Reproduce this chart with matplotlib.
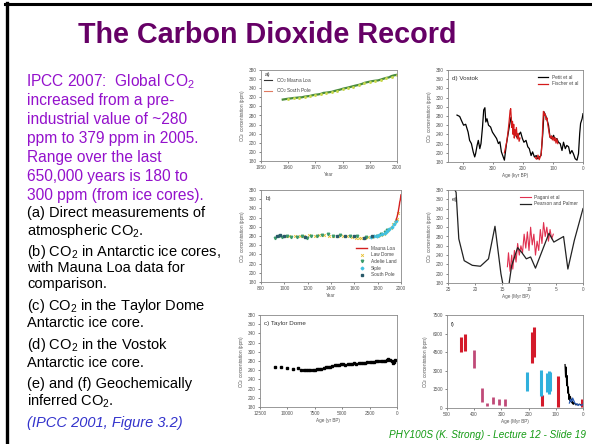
import matplotlib
matplotlib.use('Agg')
import matplotlib.pyplot as plt
from matplotlib.lines import Line2D

plt.rcParams['font.family'] = 'Liberation Sans'
plt.rcParams['mathtext.fontset'] = 'custom'
plt.rcParams['mathtext.rm'] = 'Liberation Sans'
plt.rcParams['mathtext.it'] = 'Liberation Sans:italic'
plt.rcParams['mathtext.bf'] = 'Liberation Sans:bold'

# ---------------- data ----------------
# (a) direct measurements
ml_years = list(range(1958, 2001))
ml_co2 = [315.0, 316.0, 316.9, 317.6, 318.5, 319.0, 319.6, 320.0, 321.4, 322.2, 323.0,
          324.6, 325.7, 326.3, 327.5, 329.7, 330.2, 331.1, 332.0, 333.8, 335.4, 336.8,
          338.7, 340.1, 341.4, 343.0, 344.6, 346.1, 347.4, 349.2, 351.6, 353.1, 354.4,
          355.6, 356.5, 357.1, 358.8, 360.8, 362.6, 363.7, 366.7, 368.4, 369.5]
sp_years = [1960, 1962, 1964, 1966, 1968, 1970, 1972, 1974, 1976, 1978, 1980, 1982, 1984,
            1986, 1988, 1990, 1992, 1994, 1996, 1998, 2000]
sp_co2 = [316.0, 317.7, 318.9, 320.3, 322.2, 324.6, 326.5, 329.2, 331.0, 334.4, 337.6,
          340.4, 343.5, 346.3, 350.4, 353.2, 355.4, 357.7, 361.5, 365.2, 368.2]

# (b) ice cores
law_years = [1005, 1040, 1090, 1130, 1170, 1210, 1260, 1300, 1340, 1380, 1420, 1460, 1500,
             1540, 1580, 1610, 1640, 1660, 1690, 1720, 1750, 1775, 1800, 1825, 1850, 1870,
             1890, 1910, 1930, 1950, 1965, 1975]
law_co2 = [279, 280, 279, 281, 280, 282, 281, 283, 282, 280, 281, 279, 280, 281, 277, 276,
           275, 276, 276, 277, 277, 279, 281, 283, 285, 288, 292, 298, 307, 311, 318, 329]
adelie_years = [920, 950, 980, 1020, 1060, 1110, 1150, 1190, 1230, 1280, 1320, 1370, 1420,
                1480, 1560, 1620, 1700, 1790, 1830, 1860, 1880]
adelie_co2 = [276, 281, 277, 279, 277, 278, 280, 276, 279, 281, 283, 284, 281, 282, 281,
              279, 278, 281, 284, 289, 292]
siple_years = [1745, 1770, 1790, 1810, 1835, 1860, 1880, 1900, 1920, 1940, 1953]
siple_co2 = [278, 281, 280, 282, 284, 287, 290, 295, 300, 307, 313]
spole_years = [940, 965, 1000, 1180, 1450, 1520, 1600, 1680, 1750]
spole_co2 = [279, 283, 281, 277, 281, 280, 279, 276, 279]

# (c) Taylor Dome
taylor_age = [11100, 10600, 10050, 9500, 9000, 8800, 8500, 8300, 8100, 7900, 7700, 7500,
              7300, 7100, 6900, 6700, 6500, 6300, 6100, 5900, 5700, 5500, 5300, 5100, 4900,
              4700, 4500, 4300, 4100, 3900, 3700, 3500, 3300, 3100, 2900, 2700, 2500, 2300,
              2100, 1900, 1700, 1500, 1300, 1100, 950, 800, 650, 500, 400, 300, 200]
taylor_co2 = [266, 266, 264, 262, 264, 261, 260, 261, 260, 260, 261, 261, 262, 262, 263,
              265, 266, 267, 268, 270, 271, 272, 272, 273, 273, 272, 273, 274, 274, 275,
              274, 275, 276, 275, 276, 277, 277, 278, 278, 279, 279, 280, 281, 281, 283,
              284, 283, 280, 276, 278, 282]

# (d) Vostok
petit_age = [420, 411, 405, 398, 391, 383, 378, 372, 366, 361, 358, 353, 349, 344, 340, 335,
             331, 327, 324, 320, 315, 308, 302, 295, 288, 282, 277, 272, 266, 262, 255, 246,
             240, 235, 229, 221, 215, 208, 202, 197, 190, 184, 179, 173, 168, 162, 156, 151,
             145, 140, 134, 130, 125, 121, 115, 110, 104, 98, 93, 87, 82, 76, 70, 65, 59, 54,
             48, 43, 37, 32, 26, 20, 15, 11, 8, 3, 0]
petit_co2 = [282, 279, 270, 260, 262, 245, 227, 220, 202, 191, 198, 216, 227, 209, 220, 256,
             293, 298, 267, 274, 260, 256, 245, 238, 231, 220, 224, 202, 191, 184, 220, 256,
             277, 256, 245, 234, 238, 245, 231, 223, 227, 213, 209, 194, 202, 191, 194, 187,
             191, 194, 242, 289, 282, 274, 260, 234, 231, 238, 227, 231, 223, 220, 205, 223,
             209, 216, 213, 198, 205, 198, 187, 184, 198, 242, 264, 274, 285]
fischer1_age = [262, 258, 254, 250, 246, 243, 241, 239, 237, 235, 233, 231, 229, 227, 225,
                222, 219, 216, 213, 210]
fischer1_co2 = [200, 212, 225, 245, 270, 292, 296, 275, 255, 268, 240, 262, 232, 250, 238,
                255, 230, 242, 225, 232]
fischer2_age = [160, 155, 150, 146, 142, 139, 136, 134, 132, 130, 128, 126, 123, 120, 117,
                114, 111, 108, 105, 102, 99, 96, 93, 90, 87, 84]
fischer2_co2 = [190, 186, 195, 185, 192, 200, 230, 262, 290, 288, 281, 284, 272, 276, 260,
                248, 236, 232, 237, 228, 234, 226, 233, 221, 230, 220]

# (e) geochemical, Myr
pp_age = [24.6, 23.5, 23.0, 22.0, 20.5, 19.0, 17.5, 16.3, 15.2, 14.8, 13.8, 13.2, 12.1,
          11.3, 10.5, 9.7, 8.8, 6.3, 5.4, 3.6, 2.8, 1.6, 0.0]
pp_co2 = [400, 375, 275, 228, 218, 216, 232, 302, 200, 175, 170, 218, 256, 245, 232, 236,
          212, 287, 268, 280, 210, 272, 340]
pagani_age = [14.0, 13.8, 13.5, 13.2, 13.0, 12.7, 12.4, 12.1, 11.8, 11.5, 11.2, 10.9, 10.6,
              10.3, 10.0, 9.7, 9.4, 9.1, 8.8, 8.5, 8.2, 7.9, 7.6, 7.3, 7.0, 6.7, 6.4, 6.1,
              5.8, 5.5]
pagani_co2 = [215, 245, 205, 240, 210, 250, 225, 265, 240, 260, 245, 285, 255, 290, 250,
              300, 262, 285, 240, 270, 250, 295, 265, 310, 280, 300, 270, 295, 275, 285]

# (f) geochemical, 0-500 Myr (vertical ranges)
red_age = [448, 432, 186, 181, 150, 92, 5]
red_low = [4500, 4600, 3600, 4100, 200, 100, 100]
red_high = [5750, 5950, 6150, 6500, 1050, 2550, 700]
pink_age = [400, 370, 354, 331, 309, 287]
pink_low = [3200, 450, 200, 300, 250, 200]
pink_high = [4700, 1600, 380, 850, 750, 750]
cyan_age = [207, 154, 132, 126, 121]
cyan_low = [1400, 1000, 1300, 1150, 1400]
cyan_high = [2900, 3050, 2850, 2950, 2900]
blk_age = [66, 64, 62, 60, 58, 56, 54, 52, 50, 48, 46, 44, 42, 40, 38, 36, 34, 30, 26, 22,
           18, 14, 10]
blk_co2 = [3500, 2500, 3300, 1800, 2600, 1200, 1700, 700, 1100, 600, 900, 500, 700, 400,
           500, 300, 400, 350, 250, 300, 250, 300, 280]
blue_age = [50, 46, 42, 38, 34, 30, 26, 22, 18, 14, 10, 6, 2]
blue_co2 = [400, 700, 500, 800, 600, 400, 300, 350, 200, 300, 250, 200, 280]

# ---------------- figure ----------------
W, H = 592, 444
fig = plt.figure(figsize=(W / 100, H / 100), dpi=100)


def fx(x):
    return x / W


def fy(y):
    return 1 - y / H


def ftext(x, y, s, **kw):
    fig.text(fx(x), fy(y), s, va='baseline', **kw)


# border
fig.add_artist(Line2D([fx(5), fx(592)], [fy(4.5), fy(4.5)], color='black', lw=2.2))
fig.add_artist(Line2D([fx(7), fx(7)], [fy(3.5), fy(444)], color='black', lw=2.4))

# title
fig.text(fx(267.5), fy(42.7), 'The Carbon Dioxide Record', ha='center', va='baseline',
         fontsize=20.7, fontweight='bold', color='#660066')

purple = '#9411cc'
plines = ['IPCC 2007:  Global CO$_2$', 'increased from a pre-', 'industrial value of ~280',
          'ppm to 379 ppm in 2005.', 'Range over the last', '650,000 years is 180 to',
          '300 ppm (from ice cores).']
for i, s in enumerate(plines):
    ftext(26 if i == 0 else 27, 86.7 + i * 18.8, s, fontsize=11.2, color=purple)

blines = [('(a) Direct measurements of', 217), ('atmospheric CO$_2$.', 234.7),
          ('(b) CO$_2$ in Antarctic ice cores,', 255.7), ('with Mauna Loa data for', 271.7),
          ('comparison.', 288), ('(c) CO$_2$ in the Taylor Dome', 310),
          ('Antarctic ice core.', 326.7), ('(d) CO$_2$ in the Vostok', 349),
          ('Antarctic ice core.', 366.7), ('(e) and (f) Geochemically', 388),
          ('inferred CO$_2$.', 405.7)]
for s, y in blines:
    ftext(27, y, s, fontsize=10.5, color='black')
ftext(27, 426.5, '(IPCC 2001, Figure 3.2)', fontsize=10.5, color='#3333cc', style='italic')

ftext(586, 437.5, 'PHY100S (K. Strong) - Lecture 12 - Slide 19', fontsize=7.2,
      color='#129a12', style='italic', ha='right')

TC = '#555555'


def make_ax(l, r, t, b):
    ax = fig.add_axes([fx(l), fy(b), fx(r) - fx(l), fy(t) - fy(b)])
    for sp in ax.spines.values():
        sp.set_color('#888888')
        sp.set_linewidth(0.6)
    ax.tick_params(labelsize=3.4, colors=TC, length=1.5, width=0.5, pad=1.5)
    return ax


def co2_y(ax):
    ax.set_ylim(180, 380)
    ax.set_yticks(range(180, 381, 20))
    ax.set_ylabel('CO$_2$ concentration (ppm)', fontsize=3.3, color=TC, labelpad=1.5)


def leg(ax, loc):
    lg = ax.legend(loc=loc, fontsize=3.4, frameon=False, handlelength=2.2,
                   borderaxespad=0.6, labelspacing=0.35)
    for t in lg.get_texts():
        t.set_color('#444444')


# (a)
ax = make_ax(261, 397, 70, 161)
ax.plot(ml_years, ml_co2, color='#4a8c3c', lw=1.6, label='CO$_2$ Mauna Loa')
ax.plot(sp_years, sp_co2, color='#d98a5a', lw=0, marker='o', ms=1.1, mfc='#c8d850',
        mec='#c8d850', label='CO$_2$ South Pole')
ax.set_xlim(1950, 2000)
ax.set_xticks(range(1950, 2001, 10))
co2_y(ax)
ax.set_xlabel('Year', fontsize=3.3, color=TC, labelpad=1.5)
ax.text(0.03, 0.98, 'a)', transform=ax.transAxes, fontsize=4.5, color='#333333', va='top')
lg = ax.legend([Line2D([], [], color='#333333', lw=0.8), Line2D([], [], color='#e07a60', lw=0.8)],
               ['CO$_2$ Mauna Loa', 'CO$_2$ South Pole'], loc='upper left', fontsize=3.4,
               frameon=False, handlelength=1.6, bbox_to_anchor=(0.0, 0.97),
               borderaxespad=0.3, labelspacing=0.3)
for t in lg.get_texts():
    t.set_color('#444444')

# (b)
ax = make_ax(261, 401, 190, 282)
ax.plot(ml_years, ml_co2, color='#d42020', lw=1.0, label='Mauna Loa', zorder=3)
ax.plot(law_years, law_co2, ls='none', marker='x', ms=2.0, mew=0.6, color='#e8c030',
        label='Law Dome')
ax.plot(adelie_years, adelie_co2, ls='none', marker='v', ms=1.8, color='#3a9a6a',
        label='Adelie Land')
ax.plot(siple_years, siple_co2, ls='none', marker='D', ms=1.4, color='#40c0e0', label='Siple')
ax.plot(spole_years, spole_co2, ls='none', marker='s', ms=1.5, color='#2a5a6a',
        label='South Pole')
ax.set_xlim(800, 2000)
ax.set_xticks(range(800, 2001, 200))
co2_y(ax)
ax.set_xlabel('Year', fontsize=3.3, color=TC, labelpad=1.5)
ax.text(0.03, 0.93, 'b)', transform=ax.transAxes, fontsize=4.5, color='#333333', va='top')
leg(ax, 'lower right')

# (c)
ax = make_ax(260, 397, 315, 407)
ax.plot(taylor_age, taylor_co2, ls='none', marker='s', ms=1.5, color='black')
ax.set_xlim(12500, 0)
ax.set_xticks([12500, 10000, 7500, 5000, 2500, 0])
co2_y(ax)
ax.set_xlabel('Age (yr BP)', fontsize=3.3, color=TC, labelpad=1.5)
ax.text(0.03, 0.93, 'c) Taylor Dome', transform=ax.transAxes, fontsize=4.5, color='#333333',
        va='top')

# (d)
ax = make_ax(448, 583, 70, 162)
ax.plot(petit_age, petit_co2, color='black', lw=0.9, label='Petit et al')
ax.plot(fischer1_age, fischer1_co2, color='#d41a1a', lw=0.9, label='Fischer et al')
ax.plot(fischer2_age, fischer2_co2, color='#d41a1a', lw=0.9)
ax.set_xlim(450, 0)
ax.set_xticks([400, 300, 200, 100, 0])
co2_y(ax)
ax.set_xlabel('Age (kyr BP)', fontsize=3.3, color=TC, labelpad=1.5)
ax.text(0.03, 0.93, 'd) Vostok', transform=ax.transAxes, fontsize=4.5, color='#333333',
        va='top')
leg(ax, 'upper right')

# (e)
ax = make_ax(448, 583, 190, 283)
ax.plot(pagani_age, pagani_co2, color='#e03050', lw=0.8, label='Pagani et al')
ax.plot(pp_age, pp_co2, color='#222222', lw=0.9, label='Pearson and Palmer')
ax.set_xlim(25, 0)
ax.set_xticks([25, 20, 15, 10, 5, 0])
co2_y(ax)
ax.set_xlabel('Age (Myr BP)', fontsize=3.3, color=TC, labelpad=1.5)
ax.text(0.03, 0.93, 'e)', transform=ax.transAxes, fontsize=4.5, color='#333333', va='top')
leg(ax, 'upper right')

# (f)
ax = make_ax(447, 583, 315, 408)
ax.vlines(red_age, red_low, red_high, color='#d41a2a', lw=2.2)
ax.vlines(pink_age, pink_low, pink_high, color='#c04a78', lw=2.0)
ax.vlines(cyan_age, cyan_low, cyan_high, color='#30b0dc', lw=2.2)
ax.plot(blk_age, blk_co2, color='black', lw=0.9)
ax.plot(blue_age, blue_co2, color='#2a5ab0', lw=0.9)
ax.set_xlim(500, 0)
ax.set_xticks([500, 400, 300, 200, 100, 0])
ax.set_ylim(0, 7500)
ax.set_yticks(range(0, 7501, 1500))
ax.set_ylabel('CO$_2$ concentration (ppm)', fontsize=3.3, color=TC, labelpad=1.5)
ax.set_xlabel('Age (Myr BP)', fontsize=3.3, color=TC, labelpad=1.0)
ax.text(0.03, 0.93, 'f)', transform=ax.transAxes, fontsize=4.5, color='#333333', va='top')

fig.savefig('out.png', dpi=100)
